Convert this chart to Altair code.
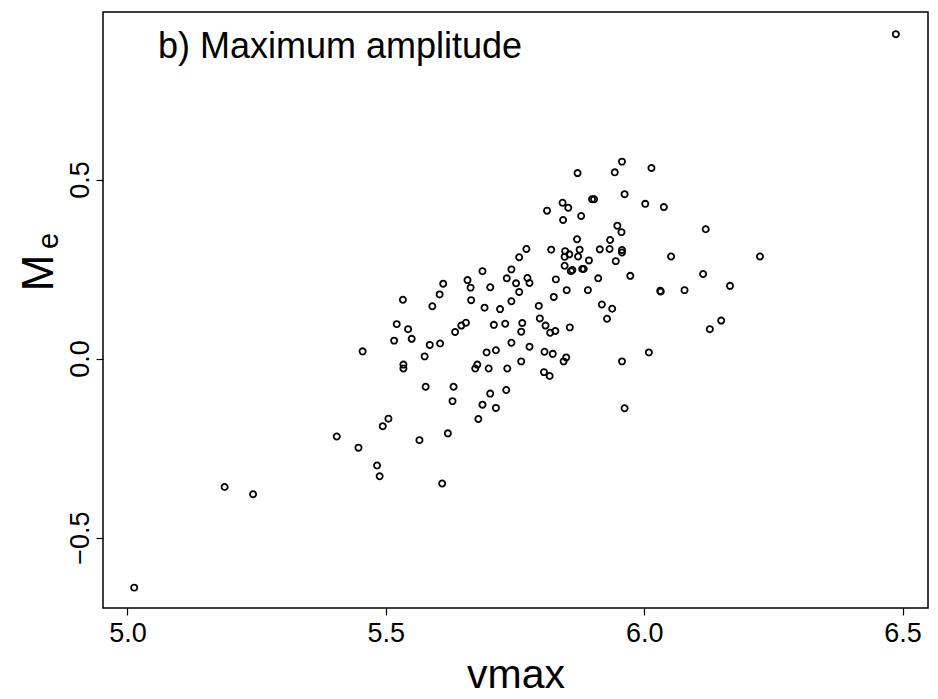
import altair as alt
import pandas as pd

# Data
vmax = [
    6.119, 6.224, 6.114, 6.166, 6.149, 6.127,
    5.871, 5.943, 5.957, 6.014, 5.962, 6.002, 6.038, 5.899, 5.903, 5.842,
    5.853, 5.812, 5.878, 5.843, 5.948, 5.956, 5.870, 5.934, 5.772, 5.820,
    5.847, 5.855, 5.875, 5.914, 5.933, 5.957, 5.957, 6.052, 5.758, 5.846,
    5.872, 5.893, 5.945, 5.846, 5.858, 5.861, 5.880, 5.883, 5.911, 5.973,
    5.774, 5.778, 5.829, 5.758, 5.850, 5.891, 5.825, 6.031, 6.032, 6.078,
    5.796, 5.918, 5.938, 5.798, 5.928, 5.764, 5.809, 5.856, 5.828,
    5.743, 5.687, 5.734, 5.752, 5.658, 5.664, 5.702, 5.611, 5.604, 5.533,
    5.665, 5.743, 5.590, 5.691, 5.721, 5.521, 5.543, 5.634, 5.646, 5.655,
    5.709, 5.731,
    5.516, 5.550, 5.455, 5.585, 5.605, 5.762, 5.743, 5.695, 5.713, 5.762,
    5.575, 5.534, 5.534, 5.677, 5.673, 5.699, 5.735, 5.577, 5.631, 5.629,
    5.702, 5.733, 5.687, 5.713, 5.679, 5.505, 5.494, 5.405, 5.447, 5.565,
    5.620, 5.483, 5.488, 5.609,
    5.818, 5.778, 5.807, 5.823, 5.849, 5.844, 5.957, 6.009, 5.806, 5.817,
    5.962,
    5.188, 5.243, 5.013, 6.487,
]
me = [
    0.361, 0.285, 0.236, 0.203, 0.106, 0.082,
    0.518, 0.520, 0.550, 0.532, 0.459, 0.432, 0.423, 0.445, 0.445, 0.435,
    0.421, 0.413, 0.398, 0.387, 0.371, 0.353, 0.333, 0.331, 0.306, 0.304,
    0.300, 0.291, 0.304, 0.305, 0.306, 0.303, 0.296, 0.285, 0.283, 0.284,
    0.285, 0.274, 0.272, 0.259, 0.244, 0.247, 0.250, 0.250, 0.224, 0.231,
    0.225, 0.211, 0.221, 0.186, 0.191, 0.191, 0.172, 0.189, 0.187, 0.191,
    0.147, 0.151, 0.139, 0.112, 0.111, 0.099, 0.092, 0.087, 0.077,
    0.249, 0.244, 0.224, 0.210, 0.219, 0.198, 0.199, 0.209, 0.179, 0.164,
    0.163, 0.160, 0.146, 0.142, 0.138, 0.096, 0.082, 0.074, 0.092, 0.100,
    0.094, 0.097,
    0.050, 0.055, 0.020, 0.038, 0.042, 0.075, 0.044, 0.017, 0.023, -0.008,
    0.006, -0.017, -0.028, -0.017, -0.028, -0.028, -0.028, -0.079, -0.079, -0.119,
    -0.098, -0.088, -0.129, -0.138, -0.169, -0.168, -0.189, -0.218, -0.249, -0.228,
    -0.209, -0.299, -0.329, -0.349,
    0.072, 0.033, 0.019, 0.013, 0.003, -0.008, -0.008, 0.017, -0.038, -0.049,
    -0.139,
    -0.359, -0.379, -0.640, 0.906,
]
x_ticks = [5.0, 5.5, 6.0, 6.5]
y_ticks = [-0.5, 0.0, 0.5]
panel_title = ["b) Maximum amplitude"]
y_title_main = ["M"]
y_title_sub = ["e"]
x_title = "vmax"

df = pd.DataFrame({"vmax": vmax, "Me": me})

FONT = "Liberation Sans"

x_scale = alt.Scale(domain=[4.9526, 6.5492], nice=False, zero=False)
y_scale = alt.Scale(domain=[-0.6969, 0.9679], nice=False, zero=False)

points = alt.Chart(df).mark_point(
    shape="circle", filled=False, color="black", size=38, strokeWidth=1.8, opacity=1
).encode(
    x=alt.X("vmax:Q", scale=x_scale,
            axis=alt.Axis(values=x_ticks, format=".1f", title=x_title,
                          labelPadding=5, titlePadding=9, titleFontSize=41,
                          titleFontWeight="normal")),
    y=alt.Y("Me:Q", scale=y_scale,
            axis=alt.Axis(values=y_ticks, format=".1f", title=None,
                          labelAngle=270, labelAlign="center",
                          labelBaseline="alphabetic", labelPadding=8)),
)

title_text = alt.Chart(pd.DataFrame({"t": panel_title})).mark_text(
    align="left", baseline="middle", fontSize=36, font=FONT, color="black"
).encode(x=alt.value(55), y=alt.value(35), text="t:N")

m_text = alt.Chart(pd.DataFrame({"t": y_title_main})).mark_text(
    align="center", baseline="middle", fontSize=44, font=FONT, color="black", angle=270
).encode(x=alt.value(-63), y=alt.value(261), text="t:N")

e_text = alt.Chart(pd.DataFrame({"t": y_title_sub})).mark_text(
    align="center", baseline="middle", fontSize=29, font=FONT, color="black", angle=270
).encode(x=alt.value(-54), y=alt.value(229), text="t:N")

chart = alt.layer(points, title_text, m_text, e_text).properties(
    width=825, height=596,
    padding={"left": 103, "top": 12, "right": 10, "bottom": 91},
    autosize=alt.AutoSizeParams(type="none"),
).configure_view(
    stroke="black", strokeWidth=1.5
).configure_axis(
    grid=False, domain=False, tickColor="black", tickSize=7, tickWidth=1.2,
    labelFont=FONT, labelFontSize=27, labelColor="black",
    titleFont=FONT, titleColor="black",
)

chart.save("out.html", embed_options={"renderer": "svg", "actions": False})
